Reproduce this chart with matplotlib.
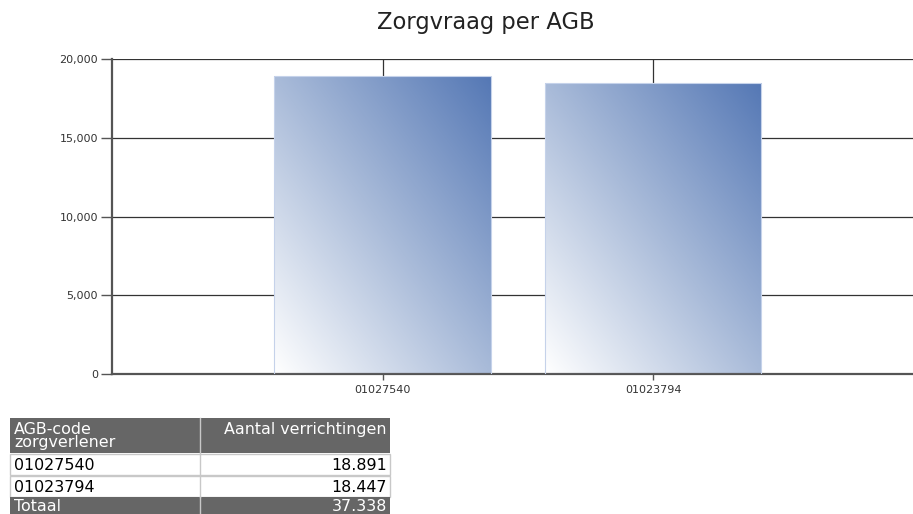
import numpy as np
import matplotlib.pyplot as plt
from matplotlib.colors import LinearSegmentedColormap
from matplotlib.patches import Rectangle

# data
agb_codes = ["01027540", "01023794"]
verrichtingen = [18891, 18447]
y_ticks = [0, 5000, 10000, 15000, 20000]
table_header = ["AGB-code\nzorgverlener", "Aantal verrichtingen"]
total_label = "Totaal"

W, H = 913, 514
fig = plt.figure(figsize=(W / 100, H / 100), dpi=100)

# chart area in pixels: left 112, right 913, top 59, bottom 374
ax = fig.add_axes([112 / W, 1 - 374 / H, (913 - 112) / W, (374 - 59) / H])
x = np.arange(len(agb_codes))
bars = ax.bar(x, verrichtingen, width=0.8, color="none",
              edgecolor="#c5d2ea", linewidth=0.8, zorder=3)

cmap = LinearSegmentedColormap.from_list("grad", ["#ffffff", "#a9bbd9", "#5578b5"])
gy, gx = np.mgrid[0:1:200j, 0:1:200j]
grad = (gx + gy) / 2
for b in bars:
    x0, w, h = b.get_x(), b.get_width(), b.get_height()
    im = ax.imshow(grad, cmap=cmap, origin="lower", aspect="auto",
                   extent=[x0, x0 + w, 0, h], zorder=2, interpolation="bilinear")
    im.set_clip_path(b)

ax.set_xlim(-1, 1.96)
ax.set_ylim(0, 20000)
ax.set_xticks(x)
ax.set_xticklabels(agb_codes)
ax.set_yticks(y_ticks)
ax.set_yticklabels([f"{v:,}" for v in y_ticks])
ax.grid(True, color="#333333", linewidth=0.9, zorder=0)
ax.set_axisbelow(True)
for s in ["top", "right"]:
    ax.spines[s].set_visible(False)
for s in ["left", "bottom"]:
    ax.spines[s].set_color("#555555")
    ax.spines[s].set_linewidth(1.6)
ax.tick_params(axis="y", length=8, width=1, color="#555555", labelsize=8,
               labelcolor="#333333", pad=2)
ax.tick_params(axis="x", length=4, width=1, color="#555555", labelsize=8,
               labelcolor="#333333", pad=4)

fig.text(486 / W, 1 - 22 / H, "Zorgvraag per AGB", ha="center", va="center",
         fontsize=16.3, color="#222222", family="DejaVu Sans")

# table drawn in pixel coordinates
tx = fig.add_axes([0, 0, 1, 1], zorder=5)
tx.set_xlim(0, W)
tx.set_ylim(H, 0)
tx.axis("off")

c0, c1, c2 = 10, 200, 390
rows = [(418, 453), (454, 475), (476, 497), (497, 520)]
dark = "#666666"
grid_col = "#c8c8c8"
fs = 11.4

# header
tx.add_patch(Rectangle((c0, rows[0][0]), c2 - c0, rows[0][1] - rows[0][0], facecolor=dark, edgecolor="none"))
tx.plot([c1, c1], [rows[0][0], rows[0][1]], color=grid_col, lw=1)
tx.text(c0 + 4, rows[0][0] + 4, table_header[0], ha="left", va="top", color="white",
        fontsize=fs, linespacing=0.85)
tx.text(c2 - 3, rows[0][0] + 4, table_header[1], ha="right", va="top", color="white", fontsize=fs)

# data rows
for (y0, y1), code, val in zip(rows[1:3], agb_codes, verrichtingen):
    tx.add_patch(Rectangle((c0, y0), c2 - c0, y1 - y0, facecolor="white", edgecolor=grid_col, lw=1))
    tx.plot([c1, c1], [y0, y1], color=grid_col, lw=1)
    tx.text(c0 + 4, (y0 + y1) / 2 + 1, code, ha="left", va="center", color="black", fontsize=fs)
    tx.text(c2 - 3, (y0 + y1) / 2 + 1, f"{val:,}".replace(",", "."), ha="right", va="center",
            color="black", fontsize=fs)

# total row
y0, y1 = rows[3]
tx.add_patch(Rectangle((c0, y0), c2 - c0, y1 - y0, facecolor=dark, edgecolor="none"))
tx.plot([c1, c1], [y0, y1], color=grid_col, lw=1)
tx.text(c0 + 4, y0 + 2, total_label, ha="left", va="top", color="white", fontsize=fs)
tx.text(c2 - 3, y0 + 2, f"{sum(verrichtingen):,}".replace(",", "."), ha="right", va="top",
        color="white", fontsize=fs)

fig.savefig("out.png", dpi=100)
